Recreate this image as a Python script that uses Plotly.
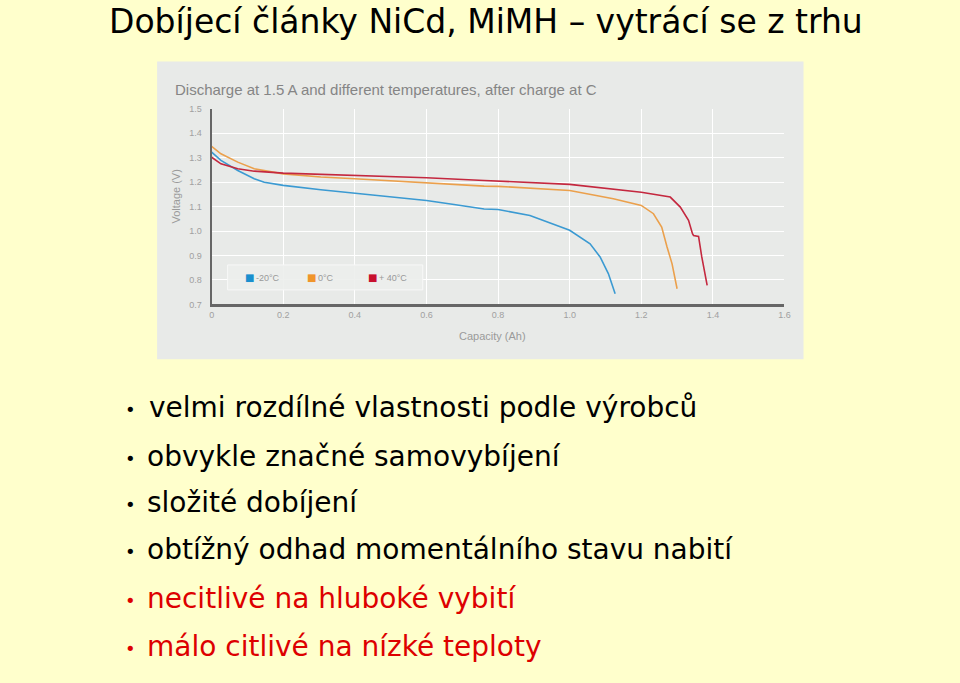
import plotly.graph_objects as go

# slide texts
slide_title = "Dobíjecí články NiCd, MiMH – vytrácí se z trhu"
bullets = [
    "velmi rozdílné vlastnosti podle výrobců",
    "obvykle značné samovybíjení",
    "složité dobíjení",
    "obtížný odhad momentálního stavu nabití",
    "necitlivé na hluboké vybití",
    "málo citlivé na nízké teploty",
]
bullet_red = [False, False, False, False, True, True]

# discharge curves (capacity Ah, voltage V)
cap_m20 = [0.0, 0.026, 0.073, 0.119, 0.147, 0.2, 0.305, 0.4, 0.491, 0.6, 0.677, 0.761,
           0.8, 0.889, 1.0, 1.057, 1.085, 1.108, 1.127]
volt_m20 = [1.323, 1.289, 1.248, 1.214, 1.200, 1.187, 1.169, 1.155, 1.142, 1.125, 1.109, 1.090,
            1.088, 1.064, 1.003, 0.948, 0.894, 0.826, 0.744]

cap_0 = [0.0, 0.026, 0.073, 0.119, 0.2, 0.305, 0.4, 0.6, 0.761, 0.8, 1.0, 1.122, 1.2,
         1.234, 1.257, 1.272, 1.286, 1.3]
volt_0 = [1.346, 1.316, 1.282, 1.255, 1.234, 1.221, 1.214, 1.196, 1.184, 1.183, 1.166, 1.132,
          1.105, 1.071, 1.016, 0.935, 0.866, 0.764]

cap_40 = [0.0, 0.026, 0.073, 0.119, 0.2, 0.4, 0.6, 0.761, 0.8, 1.0, 1.2, 1.281, 1.309,
          1.332, 1.343, 1.346, 1.360, 1.369, 1.384]
volt_40 = [1.302, 1.275, 1.255, 1.245, 1.237, 1.228, 1.218, 1.207, 1.204, 1.191, 1.159, 1.139,
           1.098, 1.044, 0.989, 0.982, 0.978, 0.894, 0.778]

series_names = ["-20°C", "0°C", "+ 40°C"]
series_colors = ["#3b9ad2", "#eba04c", "#c4283f"]
swatch_colors = ["#1a8fce", "#f0952a", "#c8102e"]

x_tickvals = [0, 0.2, 0.4, 0.6, 0.8, 1.0, 1.2, 1.4, 1.6]
x_ticktext = ["0", "0.2", "0.4", "0.6", "0.8", "1.0", "1.2", "1.4", "1.6"]
y_tickvals = [0.7, 0.8, 0.9, 1.0, 1.1, 1.2, 1.3, 1.4, 1.5]

W, H = 960, 683


# positions are given as pixels of the final picture; the page comes out
# slightly shrunk (~1%) in the photo, so undo that when converting to paper
def px(x):
    return (100 + (x - 102) / 0.99) / W


def py(y):
    return 1 - (100 + (y - 103) / 0.986) / H


fig = go.Figure()

curves = [(cap_m20, volt_m20), (cap_0, volt_0), (cap_40, volt_40)]
for (xs, ys), name, col in zip(curves, series_names, series_colors):
    fig.add_trace(go.Scatter(x=xs, y=ys, mode="lines", name=name,
                             line=dict(color=col, width=1.6)))

ann = []
shapes = []
# chart background (the pasted picture)
shapes.append(dict(type="rect", x0=px(157), x1=px(803), y0=py(359), y1=py(61),
                   fillcolor="#e8eae8", line=dict(width=0), layer="below"))

# chart texts
ann.append(dict(x=px(173), y=py(89), text="Discharge at 1.5 A and different temperatures, after charge at C",
                xanchor="left", yanchor="middle",
                font=dict(family="Liberation Sans", size=15, color="#858585")))
ann.append(dict(x=px(176), y=py(196), text="Voltage (V)", textangle=-90,
                xanchor="center", yanchor="middle",
                font=dict(family="Liberation Sans", size=11, color="#9a9a9a")))
ann.append(dict(x=px(492), y=py(336), text="Capacity (Ah)",
                xanchor="center", yanchor="middle",
                font=dict(family="Liberation Sans", size=11, color="#9a9a9a")))

# legend of the chart: framed box, colour squares and labels
shapes.append(dict(type="rect", x0=px(227.5), x1=px(422.5), y0=py(289.5), y1=py(264.5),
                   fillcolor="rgba(236,238,236,0.9)", line=dict(color="#f8f8f8", width=1)))
legend_x = [249, 311, 372]
for name, col, lx in zip(series_names, swatch_colors, legend_x):
    ann.append(dict(x=px(lx), y=py(277), text="■", xanchor="center", yanchor="middle",
                    font=dict(family="DejaVu Sans", size=10, color=col)))
    ann.append(dict(x=px(lx + 5), y=py(277.5), text=name, xanchor="left", yanchor="middle",
                    font=dict(family="Liberation Sans Narrow, Liberation Sans", size=9, color="#999999")))

# slide title
ann.append(dict(x=px(107), y=py(21), text=slide_title,
                xanchor="left", yanchor="middle",
                font=dict(family="DejaVu Sans", size=33, color="black")))

# bullet list
line_y = [407, 456, 502, 549, 598, 646]
for i, (txt, red) in enumerate(zip(bullets, bullet_red)):
    col = "#dd0000" if red else "black"
    tx = 146.5 if i == 0 else 144.5
    ann.append(dict(x=px(130), y=py(line_y[i] + 2), text="•",
                    xanchor="center", yanchor="middle",
                    font=dict(family="DejaVu Sans", size=18, color=col)))
    ann.append(dict(x=px(tx), y=py(line_y[i]), text=txt,
                    xanchor="left", yanchor="middle",
                    font=dict(family="DejaVu Sans", size=28, color=col)))

for a in ann:
    a.update(xref="paper", yref="paper", showarrow=False)
for s in shapes:
    s.update(xref="paper", yref="paper")

fig.update_layout(
    width=W, height=H,
    margin=dict(l=0, r=0, t=0, b=0),
    paper_bgcolor="#ffffcc",
    plot_bgcolor="#e8eae8",
    annotations=ann,
    shapes=shapes,
    showlegend=False,
    xaxis=dict(domain=[px(211.5), px(784)], range=[0, 1.6], tickvals=x_tickvals, ticktext=x_ticktext,
               showgrid=True, gridcolor="white", gridwidth=1, zeroline=False,
               showline=True, linecolor="#666666", linewidth=2.5,
               tickfont=dict(family="Liberation Sans", size=9, color="#a0a0a0")),
    yaxis=dict(domain=[py(304), py(108.3)], range=[0.7, 1.5], tickvals=y_tickvals, tickformat=".1f",
               showgrid=True, gridcolor="white", gridwidth=1, zeroline=False,
               showline=True, linecolor="#666666", linewidth=2, ticklabelstandoff=6,
               tickfont=dict(family="Liberation Sans", size=9, color="#a0a0a0")),
)

# no page margin, and the slide colour behind everything
fig.write_html("out.html", config={"displayModeBar": False},
               post_script="document.body.style.margin='0';document.body.style.background='#ffffcc';")
